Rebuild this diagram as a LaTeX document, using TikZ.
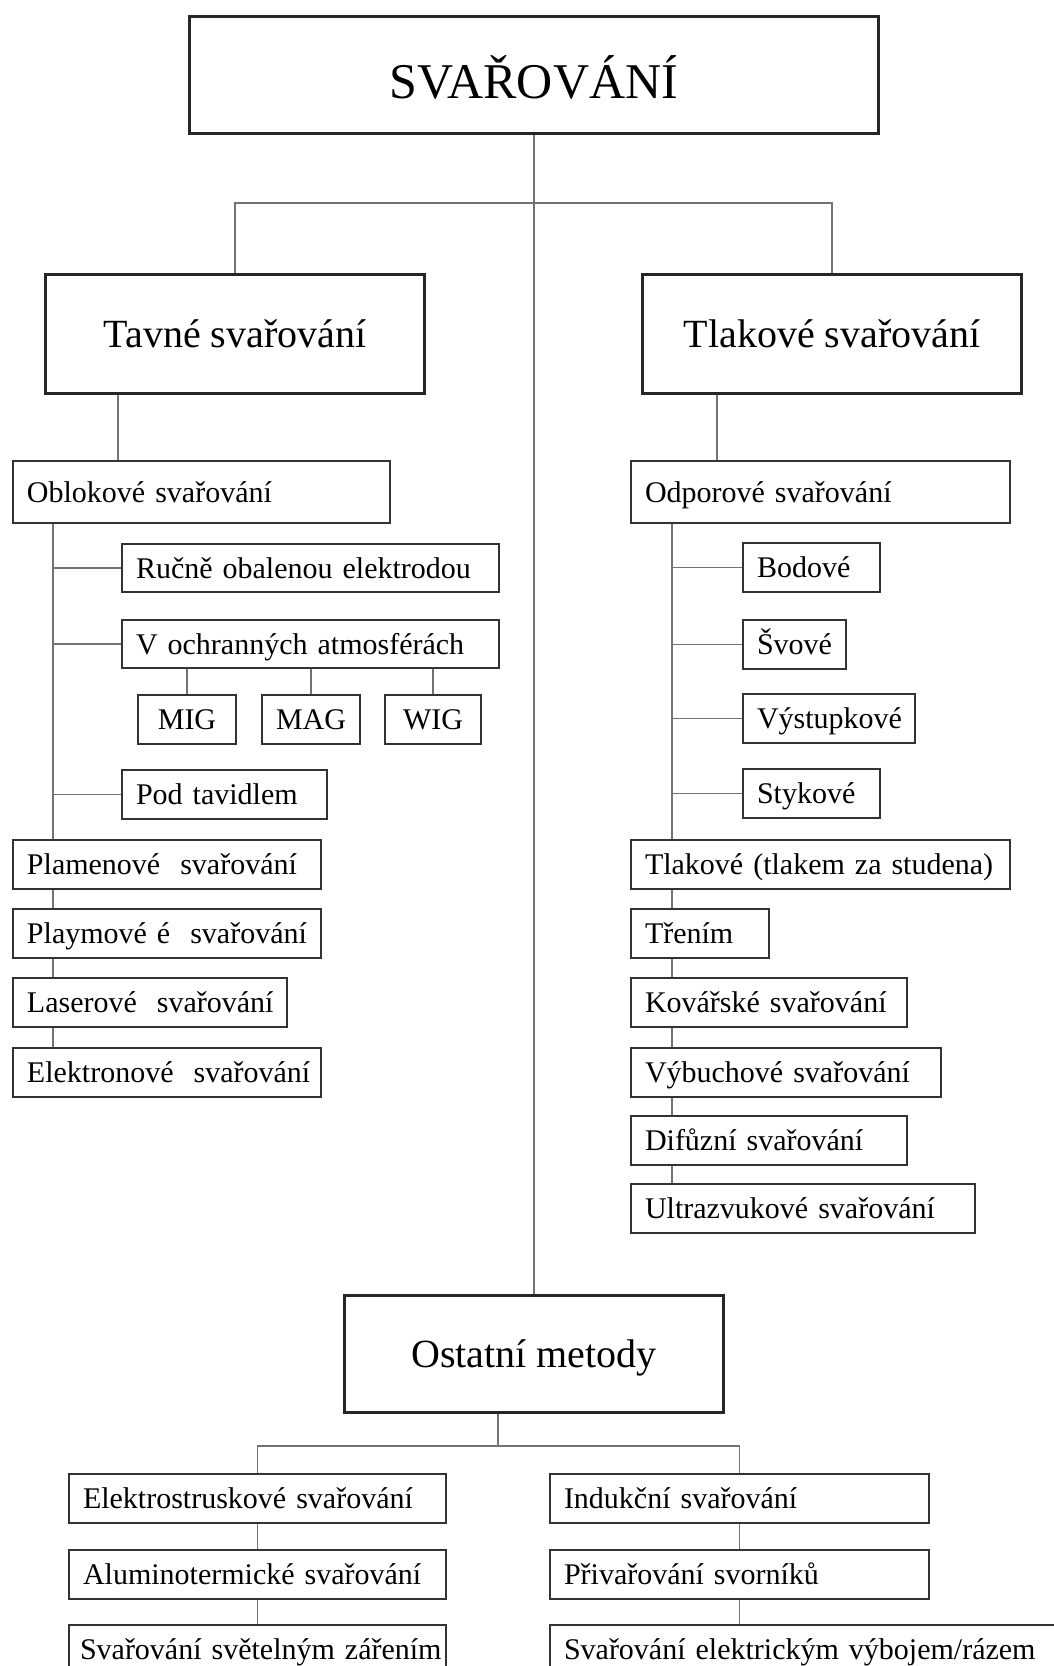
\documentclass[tikz,border=0pt]{standalone}
\usepackage{fontspec}
\setmainfont{Liberation Serif}

\newcommand\malePismo{\fontsize{30}{36}\selectfont}
\newcommand\velkePismo{\fontsize{40}{48}\selectfont}
\newcommand\nadpisPismo{\fontsize{50}{60}\selectfont}

\tikzstyle{spoj}=[draw=black!55,line width=1.2pt]
\tikzstyle{hlavni}=[draw=black!85,line width=3pt,anchor=north west,font=\velkePismo,text height=26.5pt,text depth=0pt]
\tikzstyle{polozka}=[draw=black!80,line width=2pt,anchor=north west,inner xsep=14pt,align=left,font=\malePismo,text height=20pt,text depth=0pt,minimum height=49pt]
\tikzset{sirka/.code={\pgfmathsetmacro\sirkatextu{#1-2*\pgfkeysvalueof{/pgf/inner xsep}}\pgfkeysalso{text width=\sirkatextu pt}}}

\begin{document}
\begin{tikzpicture}[x=1pt,y=-1pt]
\useasboundingbox (0,0) rectangle (1054,1666);
% hlavni bloky
\node[hlavni,minimum width=689pt,minimum height=117pt,font=\nadpisPismo,text height=47pt] (svar) at (188,15) {SVAŘOVÁNÍ};
\node[hlavni,minimum width=379pt,minimum height=119pt] (tavne) at (44,273) {Tavné svařování};
\node[hlavni,minimum width=379pt,minimum height=119pt] (tlakove) at (641,273) {Tlakové svařování};
\node[hlavni,minimum width=379pt,minimum height=117pt] (ostatni) at (343,1294) {Ostatní metody};

% tavne svarovani
\node[polozka,sirka=377,minimum height=62pt] (oblok) at (12,460) {Oblokové svařování};
\node[polozka,sirka=377,minimum height=48pt] (rucne) at (121,543) {Ručně obalenou elektrodou};
\node[polozka,sirka=377,minimum height=48pt] (vochr) at (121,619) {V ochranných atmosférách};
\node[polozka,minimum width=98pt] (mig) at (137,694) {MIG};
\node[polozka,minimum width=96pt] (mag) at (261,694) {MAG};
\node[polozka,minimum width=96pt] (wig) at (384,694) {WIG};
\node[polozka,sirka=205] (pod) at (121,769) {Pod tavidlem};
\node[polozka,sirka=308] (plamen) at (12,839) {Plamenové~ svařování};
\node[polozka,sirka=308] (playm) at (12,908) {Playmové é~ svařování};
\node[polozka,sirka=274] (laser) at (12,977) {Laserové~ svařování};
\node[polozka,sirka=308] (elektron) at (12,1047) {Elektronové~ svařování};

% tlakove svarovani
\node[polozka,sirka=379,minimum height=62pt] (odpor) at (630,460) {Odporové svařování};
\node[polozka,sirka=137] (bodove) at (742,542) {Bodové};
\node[polozka,sirka=103] (svove) at (742,619) {Švové};
\node[polozka,sirka=172] (vystup) at (742,693) {Výstupkové};
\node[polozka,sirka=137] (stykove) at (742,768) {Stykové};
\node[polozka,sirka=379] (tlakst) at (630,839) {Tlakové (tlakem za studena)};
\node[polozka,sirka=138] (treni) at (630,908) {Třením};
\node[polozka,sirka=276] (kovar) at (630,977) {Kovářské svařování};
\node[polozka,sirka=310] (vybuch) at (630,1047) {Výbuchové svařování};
\node[polozka,sirka=276] (difuz) at (630,1115) {Difůzní svařování};
\node[polozka,sirka=344] (ultra) at (630,1183) {Ultrazvukové svařování};

% ostatni metody
\node[polozka,sirka=377] (elstr) at (68,1473) {Elektrostruskové svařování};
\node[polozka,sirka=377] (alum) at (68,1549) {Aluminotermické svařování};
\node[polozka,inner xsep=11pt,sirka=377] (svetl) at (68,1624) {\mbox{Svařování světelným zářením}};
\node[polozka,sirka=379] (indukc) at (549,1473) {Indukční svařování};
\node[polozka,sirka=379] (privar) at (549,1549) {Přivařování svorníků};
\node[polozka,sirka=520] (vyboj) at (549,1624) {\mbox{Svařování elektrickým výbojem/rázem}};

% spoje
\coordinate (rozv) at (532,203);
\coordinate (vstupL) at (118,0);
\coordinate (vstupP) at (717,0);
\coordinate (kmenL) at (53,0);
\coordinate (kmenP) at (672,0);
\coordinate (vystupO) at (498,1446);
\draw[spoj] (svar.south) -- (ostatni.north);
\draw[spoj] (tavne.north) |- (rozv) -| (tlakove.north);
\draw[spoj] (tavne.south -| vstupL) -- (oblok.north -| vstupL);
\draw[spoj] (tlakove.south -| vstupP) -- (odpor.north -| vstupP);
\foreach \a/\b in {oblok/plamen,plamen/playm,playm/laser,laser/elektron}
  \draw[spoj] (\a.south -| kmenL) -- (\b.north -| kmenL);
\foreach \a/\b in {odpor/tlakst,tlakst/treni,treni/kovar,kovar/vybuch,vybuch/difuz,difuz/ultra}
  \draw[spoj] (\a.south -| kmenP) -- (\b.north -| kmenP);
\foreach \n in {rucne,vochr,pod}
  \draw[spoj] (\n.west) -- (\n.west -| kmenL);
\foreach \n in {bodove,svove,vystup,stykove}
  \draw[spoj] (\n.west) -- (\n.west -| kmenP);
\foreach \n in {mig,mag,wig}
  \draw[spoj] (\n.north) -- (\n.north |- vochr.south);
\draw[spoj] (ostatni.south -| vystupO) -- (vystupO);
\draw[spoj] (elstr.north) |- (vystupO) -| (indukc.north);
\foreach \a/\b in {elstr/alum,alum/svetl,indukc/privar,privar/vyboj}
  \draw[spoj] (\a.south) -- (\a.south |- \b.north);
\end{tikzpicture}
\end{document}
